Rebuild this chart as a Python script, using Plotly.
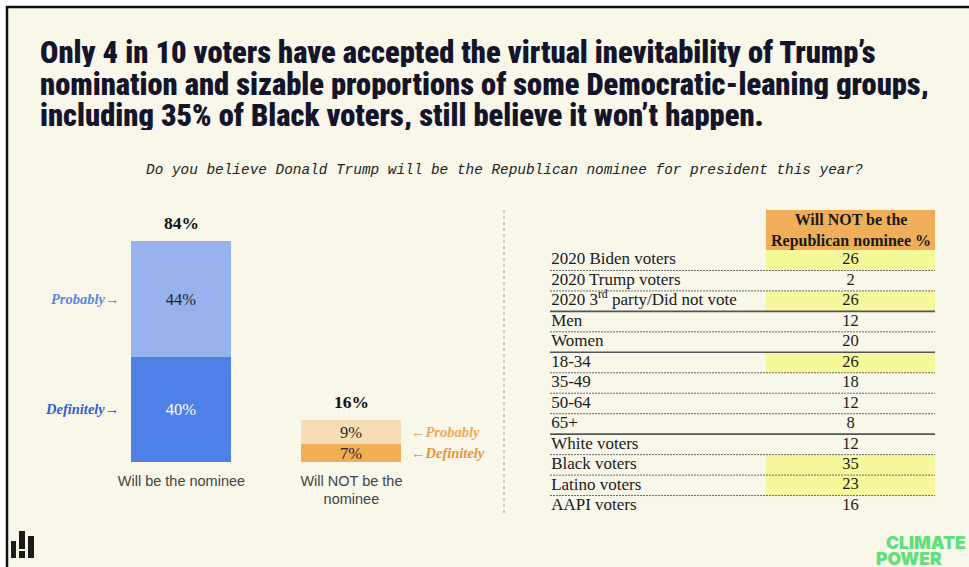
import plotly.graph_objects as go

W, H = 969, 567

# ---- bar chart data ----
bar_categories = ["Will be the nominee", "Will NOT be the<br>nominee"]
definitely = [40, 7]
probably = [44, 9]

# ---- table data ----
table_header = "Will NOT be the<br>Republican nominee %"
table_groups = [
    "2020 Biden voters", "2020 Trump voters", "2020 3<sup>rd</sup> party/Did not vote",
    "Men", "Women",
    "18-34", "35-49", "50-64", "65+",
    "White voters", "Black voters", "Latino voters", "AAPI voters",
]
table_values = [26, 2, 26, 12, 20, 26, 18, 12, 8, 12, 35, 23, 16]
highlighted = [True, False, True, False, False, True, False, False, False,
               False, True, True, False]
section_ends = [2, 4, 8]  # rows followed by a solid rule

title_lines = [
    "Only 4 in 10 voters have accepted the virtual inevitability of Trump\u2019s",
    "nomination and sizable proportions of some Democratic-leaning groups,",
    "including 35% of Black voters, still believe it won\u2019t happen.",
]
question = "Do you believe Donald Trump will be the Republican nominee for president this year?"

BG = "#F8F7EA"
BLUE_DEF, BLUE_PROB = "#4F80E8", "#97B3EE"
ORANGE_DEF, ORANGE_PROB = "#F0AE55", "#F6DDB6"
SERIF = "Liberation Serif, Times New Roman, serif"


def px(x):
    return x / W


def py(y):
    return 1 - y / H


fig = go.Figure()

xs = list(range(len(bar_categories)))
fig.add_trace(go.Bar(
    x=xs, y=definitely, width=0.588,
    marker=dict(color=[BLUE_DEF, ORANGE_DEF], line=dict(width=0)),
    text=[f"{v}%" for v in definitely], textposition="inside",
    insidetextanchor="middle", constraintext="none", textangle=0,
    textfont=dict(family=SERIF, size=16.5, color=["#FFFFFF", "#2A2A2A"]),
    hoverinfo="skip", showlegend=False,
))
fig.add_trace(go.Bar(
    x=xs, y=probably, width=0.588,
    marker=dict(color=[BLUE_PROB, ORANGE_PROB], line=dict(width=0)),
    text=[f"{v}%" for v in probably], textposition="inside",
    insidetextanchor="middle", constraintext="none", textangle=0,
    textfont=dict(family=SERIF, size=16.5, color=["#1E1E1E", "#2A2A2A"]),
    hoverinfo="skip", showlegend=False,
))

annotations = []
# totals above bars
for i, (d, p) in enumerate(zip(definitely, probably)):
    annotations.append(dict(
        x=i, y=d + p, xref="x", yref="y", text=f"<b>{d + p}%</b>",
        showarrow=False, yanchor="bottom", yshift=6,
        font=dict(family=SERIF, size=17.5, color="#111111"),
    ))

# side labels
side = dict(showarrow=False, xref="x", yref="y", yanchor="middle")
annotations += [
    dict(x=-0.294, y=definitely[0] + probably[0] / 2, text="<i>Probably\u2192</i>",
         xanchor="right", xshift=-10,
         font=dict(family=SERIF, size=14.5, color="#5A86E6", weight=600), **side),
    dict(x=-0.294, y=definitely[0] / 2, text="<i>Definitely\u2192</i>",
         xanchor="right", xshift=-10,
         font=dict(family=SERIF, size=14.5, color="#2C5FD8", weight=600), **side),
    dict(x=1.294, y=definitely[1] + probably[1] / 2, text="<i>\u2190Probably</i>",
         xanchor="left", xshift=8,
         font=dict(family=SERIF, size=14.5, color="#F0A75A", weight=600), **side),
    dict(x=1.294, y=definitely[1] / 2, text="<i>\u2190Definitely</i>",
         xanchor="left", xshift=8,
         font=dict(family=SERIF, size=14.5, color="#E6943A", weight=600), **side),
]

# ---- table drawn on its own axes ----
n = len(table_groups)
HEADER_ROWS = 1.955
VAL_X0 = (766 - 550) / (935 - 550)
VAL_XC = (VAL_X0 + 1) / 2
shapes = []

shapes.append(dict(type="rect", xref="x2", yref="y2", x0=VAL_X0, x1=1,
                   y0=-HEADER_ROWS, y1=0, fillcolor="#F0AE58", line=dict(width=0),
                   layer="below"))
for i, hl in enumerate(highlighted):
    if hl:
        shapes.append(dict(type="rect", xref="x2", yref="y2", x0=VAL_X0, x1=1,
                           y0=i, y1=i + 1, fillcolor="#F5F99B", line=dict(width=0),
                           layer="below"))
for i in range(n - 1):
    solid = i in section_ends
    shapes.append(dict(type="line", xref="x2", yref="y2", x0=0, x1=1,
                       y0=i + 1, y1=i + 1,
                       line=dict(color="#555555" if solid else "#6A6A6A",
                                 width=1.6 if solid else 1,
                                 dash="solid" if solid else "2px,1px")))

rows = list(range(n))
fig.add_trace(go.Scatter(
    x=[0.003] * n, y=[r + 0.5 for r in rows], mode="text", text=table_groups,
    textposition="middle right", xaxis="x2", yaxis="y2",
    textfont=dict(family=SERIF, size=17, color="#1A1A1A"),
    hoverinfo="skip", showlegend=False,
))
fig.add_trace(go.Scatter(
    x=[VAL_XC] * n, y=[r + 0.5 for r in rows], mode="text",
    text=[str(v) for v in table_values], textposition="middle center",
    xaxis="x2", yaxis="y2",
    textfont=dict(family=SERIF, size=16.5, color="#1A1A1A"),
    hoverinfo="skip", showlegend=False,
))
annotations.append(dict(
    x=VAL_XC, y=-HEADER_ROWS / 2, xref="x2", yref="y2", text=f"<b>{table_header}</b>",
    showarrow=False, yanchor="middle",
    font=dict(family=SERIF, size=16, color="#1A1A1A"),
))

# ---- title, question, branding ----
for k, line in enumerate(title_lines):
    annotations.append(dict(
        x=px(38), y=py([52, 84, 115][k]), xref="paper", yref="paper", text=line,
        showarrow=False, xanchor="left", yanchor="middle", height=29,
        font=dict(family="Liberation Sans Narrow, Roboto Condensed, Roboto", size=30.5,
                  color="#14142B", weight=900),
    ))
annotations.append(dict(
    x=px(505), y=py(170), xref="paper", yref="paper", text=f"<i>{question}</i>",
    showarrow=False, xanchor="center", yanchor="middle",
    font=dict(family="Liberation Mono, DejaVu Sans Mono, monospace",
              size=14.4, color="#222222"),
))
annotations += [
    dict(x=px(968), y=py(542), xref="paper", yref="paper", text="CLIMATE",
         showarrow=False, xanchor="right", yanchor="middle", height=14,
         font=dict(family="Inter, Roboto", size=17.5, color="#5EE07A", weight=900)),
    dict(x=px(874), y=py(558), xref="paper", yref="paper", text="POWER",
         showarrow=False, xanchor="left", yanchor="middle", height=14,
         font=dict(family="Inter, Roboto", size=17.5, color="#5EE07A", weight=900)),
]

# frame and divider
shapes += [
    dict(type="rect", xref="paper", yref="paper", x0=0, x1=1, y0=py(6), y1=1,
         fillcolor="#FFFFFF", line=dict(width=0), layer="below"),
    dict(type="rect", xref="paper", yref="paper", x0=0, x1=px(6), y0=0, y1=1,
         fillcolor="#FFFFFF", line=dict(width=0), layer="below"),
    dict(type="line", xref="paper", yref="paper", x0=px(6), x1=1, y0=py(7), y1=py(7),
         line=dict(color="#111111", width=2.5)),
    dict(type="line", xref="paper", yref="paper", x0=px(7), x1=px(7), y0=0, y1=py(6),
         line=dict(color="#111111", width=2.5)),
    dict(type="line", xref="paper", yref="paper", x0=px(504), x1=px(504),
         y0=py(210), y1=py(516), line=dict(color="#9A9A9A", width=1, dash="dot")),
]
# logo mark
for x0, x1, y0, y1 in [(11, 16, 541, 558), (19, 25, 531, 549), (19, 25, 551, 558),
                       (28, 34, 536, 558)]:
    shapes.append(dict(type="rect", xref="paper", yref="paper", x0=px(x0), x1=px(x1),
                       y0=py(y1), y1=py(y0), fillcolor="#1C1C1C", line=dict(width=0)))

fig.update_layout(
    width=W, height=H, margin=dict(l=0, r=0, t=0, b=0),
    paper_bgcolor=BG, plot_bgcolor="rgba(0,0,0,0)",
    barmode="stack", bargap=0,
    xaxis=dict(domain=[px(100), px(440)], range=[-0.479, 1.521],
               tickmode="array", tickvals=xs, ticktext=bar_categories,
               showgrid=False, zeroline=False, showline=False, ticks="",
               ticklabelstandoff=8,
               tickfont=dict(family="Liberation Sans, Arial, sans-serif", size=14.5,
                             color="#444444"), fixedrange=True),
    yaxis=dict(domain=[py(462), py(199)], range=[0, 100], visible=False, fixedrange=True),
    xaxis2=dict(domain=[px(550), px(935)], range=[0, 1], visible=False, anchor="y2"),
    yaxis2=dict(domain=[py(516), py(210)], range=[n, -HEADER_ROWS], visible=False,
                anchor="x2"),
    shapes=shapes, annotations=annotations,
)

fig.write_html("out.html")
